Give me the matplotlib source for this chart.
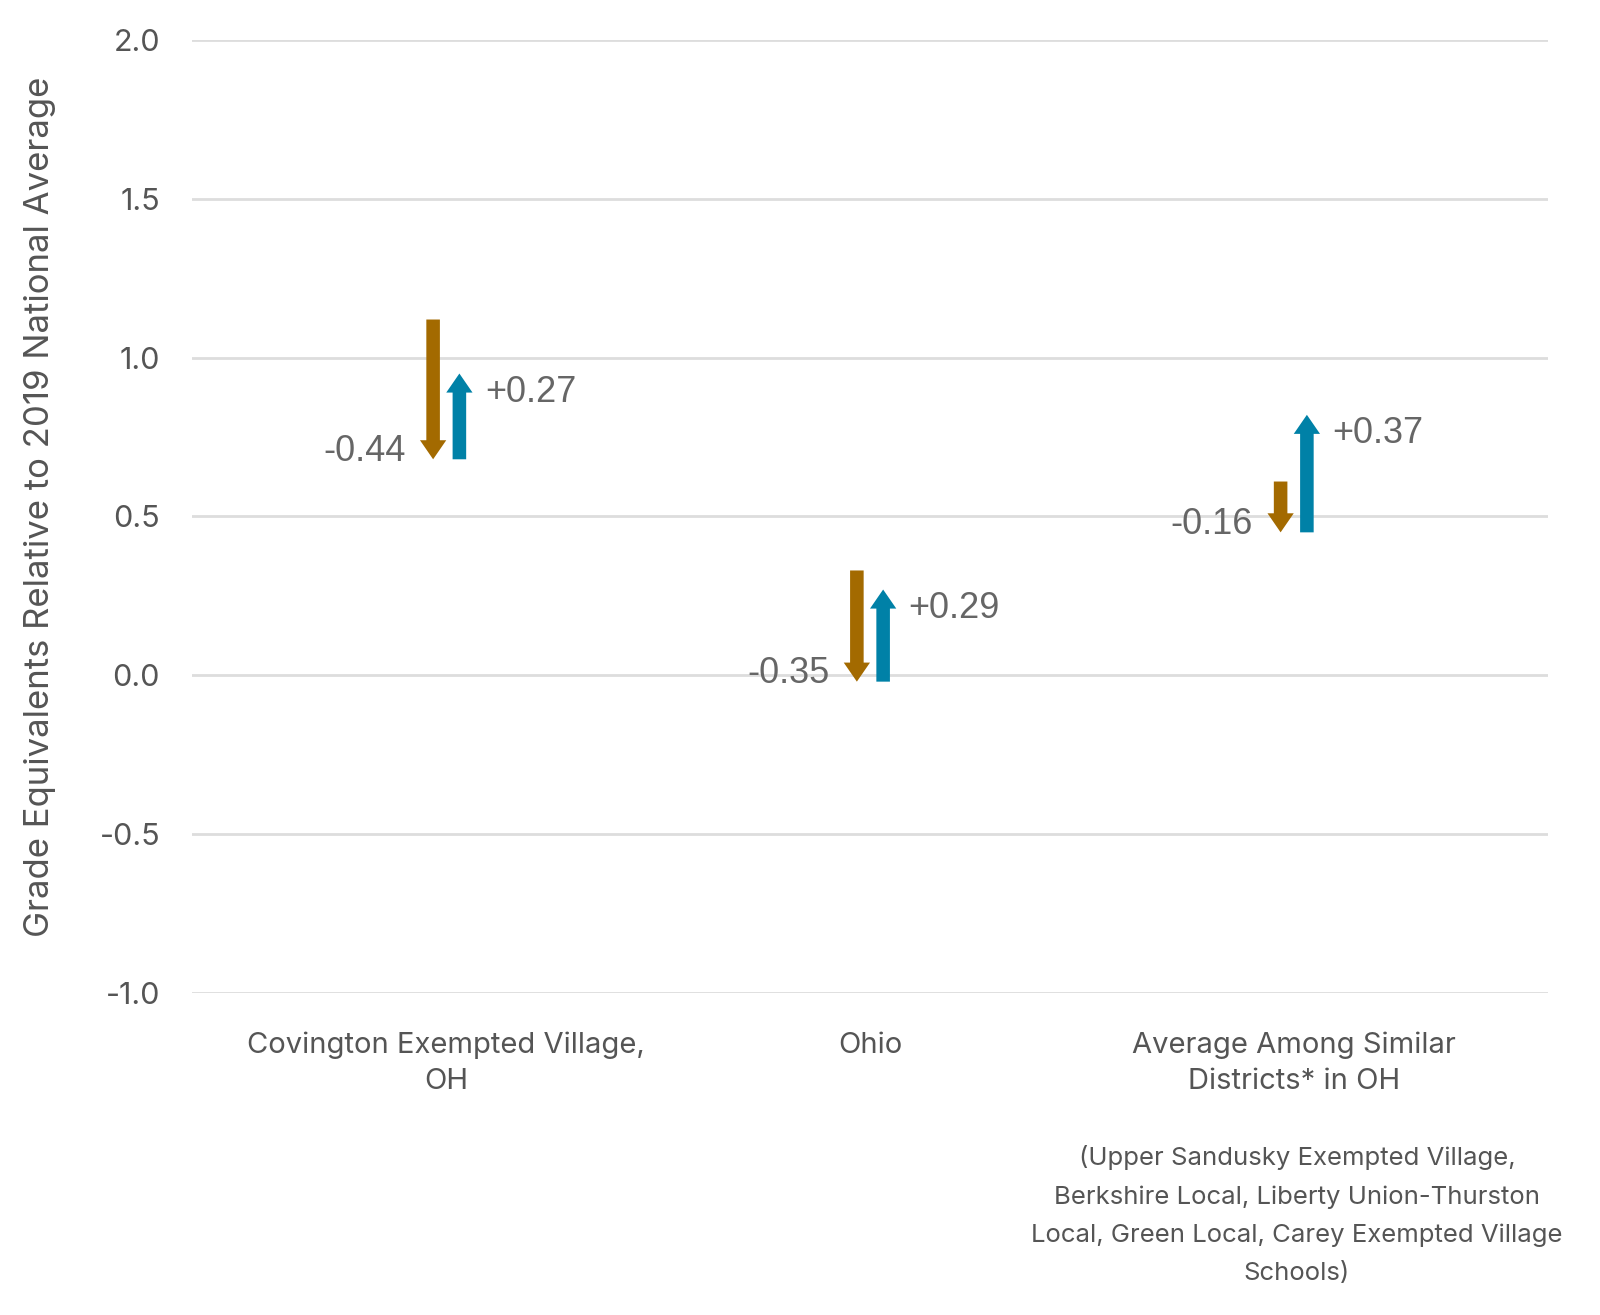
import matplotlib.pyplot as plt
from matplotlib.patches import FancyArrow
import numpy as np

categories = ['Covington Exempted Village,\nOH', 'Ohio', 'Average Among Similar\nDistricts* in OH']
start = [1.12, 0.33, 0.61]      # level before decline
decline = [-0.44, -0.35, -0.16]
recovery = [0.27, 0.29, 0.37]
down_labels = ['-0.44', '-0.35', '-0.16']
up_labels = ['+0.27', '+0.29', '+0.37']
yticks = [-1.0, -0.5, 0.0, 0.5, 1.0, 1.5, 2.0]
footnote = ('(Upper Sandusky Exempted Village,\nBerkshire Local, Liberty Union-Thurston\n'
            'Local, Green Local, Carey Exempted Village\nSchools)')

brown = '#A36A00'
blue = '#0081A7'
grey = '#666666'

fig = plt.figure(figsize=(16, 13.15), dpi=100)
ax = fig.add_axes([0.12, 0.2449, 0.8475, 0.7247])
ax.set_xlim(-0.6, 2.6)
ax.set_ylim(-1.0, 2.0)

off = 0.031
for i in range(3):
    s = start[i]
    mid = s + decline[i]
    ax.add_patch(FancyArrow(i - off, s, 0, decline[i], width=0.032, head_width=0.062,
                            head_length=0.06, length_includes_head=True,
                            color=brown, lw=0, zorder=3))
    ax.add_patch(FancyArrow(i + off, mid, 0, recovery[i], width=0.032, head_width=0.062,
                            head_length=0.06, length_includes_head=True,
                            color=blue, lw=0, zorder=3))
    ax.text(i - off - 0.065, mid + 0.025, down_labels[i], ha='right', va='center',
            fontsize=26, color=grey, family='Liberation Sans')
    ax.text(i + off + 0.06, mid + recovery[i] - 0.06, up_labels[i], ha='left', va='center',
            fontsize=26, color=grey, family='Liberation Sans')

ax.set_yticks(yticks)
ax.set_yticklabels([f'{v:.1f}' for v in yticks], fontsize=22, color='#555555', family='Inter')
ax.set_xticks(range(3))
ax.set_xticklabels(categories, fontsize=21, color='#555555', family='Inter', linespacing=1.4)
ax.tick_params(axis='both', length=0)
ax.tick_params(axis='x', pad=28)
ax.tick_params(axis='y', pad=23)
ax.grid(axis='y', color='#dddddd', lw=2)
ax.set_axisbelow(True)
for sp in ax.spines.values():
    sp.set_visible(False)

ax.set_ylabel('Grade Equivalents Relative to 2019 National Average', fontsize=25,
              color='#555555', family='Inter')
ax.yaxis.set_label_coords(-0.1, 0.51)

fig.text(1297 / 1600, 1 - 1145 / 1315, footnote, ha='center', va='top', fontsize=18.5,
         color='#555555', family='Inter', linespacing=1.82)

fig.savefig('out.png', dpi=100)
